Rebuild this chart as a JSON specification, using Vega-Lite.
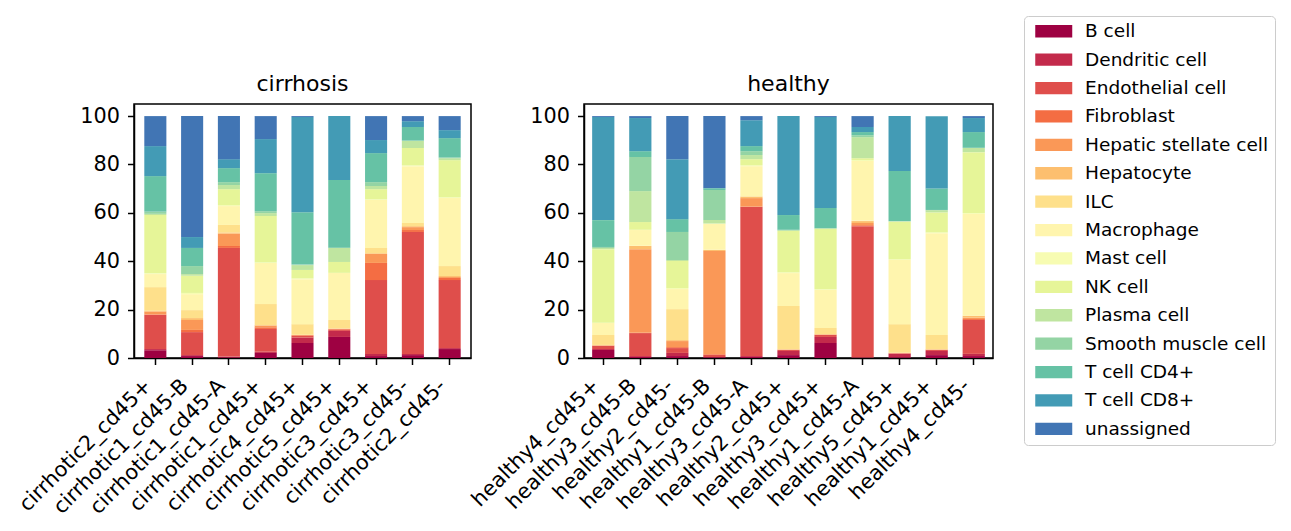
{
  "$schema": "https://vega.github.io/schema/vega-lite/v6.json",
  "padding": {"left": 14, "top": 15, "right": 5, "bottom": 5},
  "config": {
    "font": "DejaVu Sans",
    "background": "white",
    "view": {"stroke": "black", "strokeWidth": 1.5},
    "axis": {
      "domainColor": "black",
      "domainWidth": 1.5,
      "tickColor": "black",
      "tickWidth": 1.5,
      "tickSize": 6.5,
      "labelFont": "DejaVu Sans",
      "labelFontSize": 20.8,
      "labelColor": "black",
      "grid": false,
      "title": null
    },
    "title": {"font": "DejaVu Sans", "fontSize": 22, "fontWeight": "normal", "color": "black", "offset": 8, "baseline": "alphabetic"},
    "legend": {"labelFont": "DejaVu Sans", "labelFontSize": 18.5, "labelColor": "black", "labelLimit": 400}
  },
  "datasets": {
    "props": [
      {"sample": "cirrhotic2_cd45+", "condition": "cirrhosis", "B cell": 3.2, "Dendritic cell": 0.5, "Endothelial cell": 14.1, "Fibroblast": 0.2, "Hepatic stellate cell": 1.2, "Hepatocyte": 0.3, "ILC": 9.8, "Macrophage": 5.4, "Mast cell": 0.3, "NK cell": 24.1, "Plasma cell": 0.5, "Smooth muscle cell": 0.9, "T cell CD4+": 14.7, "T cell CD8+": 12.4, "unassigned": 12.4},
      {"sample": "cirrhotic1_cd45-B", "condition": "cirrhosis", "B cell": 0.8, "Dendritic cell": 0.4, "Endothelial cell": 9.5, "Fibroblast": 0.9, "Hepatic stellate cell": 4.1, "Hepatocyte": 0.8, "ILC": 3.3, "Macrophage": 6.6, "Mast cell": 0.5, "NK cell": 7.1, "Plasma cell": 0.7, "Smooth muscle cell": 3.3, "T cell CD4+": 7.5, "T cell CD8+": 4.5, "unassigned": 50.0},
      {"sample": "cirrhotic1_cd45-A", "condition": "cirrhosis", "B cell": 0.3, "Dendritic cell": 0.3, "Endothelial cell": 44.9, "Fibroblast": 0.8, "Hepatic stellate cell": 5.1, "Hepatocyte": 0.5, "ILC": 3.1, "Macrophage": 7.8, "Mast cell": 0.4, "NK cell": 6.6, "Plasma cell": 1.7, "Smooth muscle cell": 1.2, "T cell CD4+": 5.8, "T cell CD8+": 3.7, "unassigned": 17.8},
      {"sample": "cirrhotic1_cd45+", "condition": "cirrhosis", "B cell": 2.1, "Dendritic cell": 0.5, "Endothelial cell": 9.4, "Fibroblast": 0.7, "Hepatic stellate cell": 0.7, "Hepatocyte": 0.2, "ILC": 8.7, "Macrophage": 17.0, "Mast cell": 0.2, "NK cell": 19.2, "Plasma cell": 1.2, "Smooth muscle cell": 0.8, "T cell CD4+": 15.7, "T cell CD8+": 14.1, "unassigned": 9.5},
      {"sample": "cirrhotic4_cd45+", "condition": "cirrhosis", "B cell": 6.2, "Dendritic cell": 2.2, "Endothelial cell": 0.7, "Fibroblast": 0.3, "Hepatic stellate cell": 0.1, "Hepatocyte": 0.1, "ILC": 4.4, "Macrophage": 18.6, "Mast cell": 0.3, "NK cell": 3.5, "Plasma cell": 2.0, "Smooth muscle cell": 0.2, "T cell CD4+": 21.7, "T cell CD8+": 39.3, "unassigned": 0.4},
      {"sample": "cirrhotic5_cd45+", "condition": "cirrhosis", "B cell": 8.7, "Dendritic cell": 2.5, "Endothelial cell": 0.5, "Fibroblast": 0.3, "Hepatic stellate cell": 0.1, "Hepatocyte": 0.1, "ILC": 3.5, "Macrophage": 19.4, "Mast cell": 0.1, "NK cell": 4.5, "Plasma cell": 5.8, "Smooth muscle cell": 0.1, "T cell CD4+": 28.0, "T cell CD8+": 26.4, "unassigned": 0},
      {"sample": "cirrhotic3_cd45+", "condition": "cirrhosis", "B cell": 0.8, "Dendritic cell": 0.9, "Endothelial cell": 30.5, "Fibroblast": 7.1, "Hepatic stellate cell": 3.7, "Hepatocyte": 0.3, "ILC": 2.2, "Macrophage": 19.8, "Mast cell": 0.3, "NK cell": 4.2, "Plasma cell": 1.3, "Smooth muscle cell": 1.6, "T cell CD4+": 12.0, "T cell CD8+": 5.4, "unassigned": 9.9},
      {"sample": "cirrhotic3_cd45-", "condition": "cirrhosis", "B cell": 1.2, "Dendritic cell": 0.5, "Endothelial cell": 50.4, "Fibroblast": 0.8, "Hepatic stellate cell": 1.2, "Hepatocyte": 0.4, "ILC": 1.3, "Macrophage": 23.5, "Mast cell": 0.3, "NK cell": 7.2, "Plasma cell": 2.9, "Smooth muscle cell": 0.2, "T cell CD4+": 5.6, "T cell CD8+": 2.4, "unassigned": 2.1},
      {"sample": "cirrhotic2_cd45-", "condition": "cirrhosis", "B cell": 3.7, "Dendritic cell": 0.4, "Endothelial cell": 28.1, "Fibroblast": 0.9, "Hepatic stellate cell": 0.4, "Hepatocyte": 0.4, "ILC": 4.1, "Macrophage": 28.1, "Mast cell": 0.3, "NK cell": 15.4, "Plasma cell": 0.8, "Smooth muscle cell": 0.3, "T cell CD4+": 8.0, "T cell CD8+": 3.3, "unassigned": 5.8},
      {"sample": "healthy4_cd45+", "condition": "healthy", "B cell": 3.3, "Dendritic cell": 0.4, "Endothelial cell": 1.3, "Fibroblast": 0.1, "Hepatic stellate cell": 0.1, "Hepatocyte": 0.2, "ILC": 4.1, "Macrophage": 5.0, "Mast cell": 0.1, "NK cell": 30.4, "Plasma cell": 0.5, "Smooth muscle cell": 0.4, "T cell CD4+": 11.1, "T cell CD8+": 42.6, "unassigned": 0.4},
      {"sample": "healthy3_cd45-B", "condition": "healthy", "B cell": 0.4, "Dendritic cell": 0.4, "Endothelial cell": 9.5, "Fibroblast": 0.1, "Hepatic stellate cell": 34.6, "Hepatocyte": 1.3, "ILC": 0.1, "Macrophage": 6.5, "Mast cell": 0.1, "NK cell": 3.2, "Plasma cell": 12.8, "Smooth muscle cell": 14.1, "T cell CD4+": 2.4, "T cell CD8+": 13.7, "unassigned": 0.8},
      {"sample": "healthy2_cd45-", "condition": "healthy", "B cell": 0.8, "Dendritic cell": 1.3, "Endothelial cell": 2.0, "Fibroblast": 0.4, "Hepatic stellate cell": 2.5, "Hepatocyte": 0.4, "ILC": 12.8, "Macrophage": 8.3, "Mast cell": 0.4, "NK cell": 11.2, "Plasma cell": 0.4, "Smooth muscle cell": 11.6, "T cell CD4+": 5.3, "T cell CD8+": 24.8, "unassigned": 17.8},
      {"sample": "healthy1_cd45-B", "condition": "healthy", "B cell": 0.3, "Dendritic cell": 0.1, "Endothelial cell": 0.8, "Fibroblast": 0.3, "Hepatic stellate cell": 42.7, "Hepatocyte": 0.4, "ILC": 0.1, "Macrophage": 10.7, "Mast cell": 0.1, "NK cell": 0.1, "Plasma cell": 1.4, "Smooth muscle cell": 12.4, "T cell CD4+": 0.8, "T cell CD8+": 0.1, "unassigned": 29.7},
      {"sample": "healthy3_cd45-A", "condition": "healthy", "B cell": 0.4, "Dendritic cell": 0.4, "Endothelial cell": 61.6, "Fibroblast": 0.2, "Hepatic stellate cell": 3.5, "Hepatocyte": 0.6, "ILC": 0.2, "Macrophage": 12.4, "Mast cell": 0.4, "NK cell": 2.5, "Plasma cell": 1.7, "Smooth muscle cell": 1.6, "T cell CD4+": 2.1, "T cell CD8+": 10.7, "unassigned": 1.7},
      {"sample": "healthy2_cd45+", "condition": "healthy", "B cell": 1.2, "Dendritic cell": 1.7, "Endothelial cell": 0.4, "Fibroblast": 0.1, "Hepatic stellate cell": 0.1, "Hepatocyte": 0.1, "ILC": 17.9, "Macrophage": 13.6, "Mast cell": 0.3, "NK cell": 17.1, "Plasma cell": 0.3, "Smooth muscle cell": 0.2, "T cell CD4+": 6.1, "T cell CD8+": 40.9, "unassigned": 0},
      {"sample": "healthy3_cd45+", "condition": "healthy", "B cell": 6.2, "Dendritic cell": 2.5, "Endothelial cell": 0.8, "Fibroblast": 0.1, "Hepatic stellate cell": 0.1, "Hepatocyte": 0.2, "ILC": 2.5, "Macrophage": 15.7, "Mast cell": 0.3, "NK cell": 24.9, "Plasma cell": 0.3, "Smooth muscle cell": 0.1, "T cell CD4+": 8.3, "T cell CD8+": 37.6, "unassigned": 0.4},
      {"sample": "healthy1_cd45-A", "condition": "healthy", "B cell": 0.1, "Dendritic cell": 0.2, "Endothelial cell": 54.2, "Fibroblast": 0.4, "Hepatic stellate cell": 0.9, "Hepatocyte": 0.8, "ILC": 0.2, "Macrophage": 24.6, "Mast cell": 0.4, "NK cell": 0.8, "Plasma cell": 8.7, "Smooth muscle cell": 0.8, "T cell CD4+": 1.3, "T cell CD8+": 2.1, "unassigned": 4.5},
      {"sample": "healthy5_cd45+", "condition": "healthy", "B cell": 0.3, "Dendritic cell": 1.4, "Endothelial cell": 0.2, "Fibroblast": 0.1, "Hepatic stellate cell": 0.1, "Hepatocyte": 0.1, "ILC": 11.8, "Macrophage": 26.5, "Mast cell": 0.3, "NK cell": 15.5, "Plasma cell": 0.2, "Smooth muscle cell": 0.1, "T cell CD4+": 20.7, "T cell CD8+": 22.7, "unassigned": 0},
      {"sample": "healthy1_cd45+", "condition": "healthy", "B cell": 1.2, "Dendritic cell": 1.7, "Endothelial cell": 0.4, "Fibroblast": 0.1, "Hepatic stellate cell": 0.1, "Hepatocyte": 0.1, "ILC": 5.9, "Macrophage": 42.1, "Mast cell": 0.3, "NK cell": 8.3, "Plasma cell": 0.9, "Smooth muscle cell": 0.1, "T cell CD4+": 8.9, "T cell CD8+": 29.8, "unassigned": 0},
      {"sample": "healthy4_cd45-", "condition": "healthy", "B cell": 0.8, "Dendritic cell": 0.9, "Endothelial cell": 14.0, "Fibroblast": 0.4, "Hepatic stellate cell": 0.6, "Hepatocyte": 0.7, "ILC": 0.1, "Macrophage": 42.0, "Mast cell": 0.4, "NK cell": 25.2, "Plasma cell": 1.7, "Smooth muscle cell": 0.1, "T cell CD4+": 6.5, "T cell CD8+": 5.8, "unassigned": 0.8}
    ]
  },
  "data": {"name": "props"},
  "transform": [
    {"fold": ["B cell", "Dendritic cell", "Endothelial cell", "Fibroblast", "Hepatic stellate cell", "Hepatocyte", "ILC", "Macrophage", "Mast cell", "NK cell", "Plasma cell", "Smooth muscle cell", "T cell CD4+", "T cell CD8+", "unassigned"], "as": ["cell_type", "pct"]}
  ],
  "spacing": 113,
  "bounds": "flush",
  "hconcat": [
    {
      "title": "cirrhosis",
      "width": 337,
      "height": 254,
      "transform": [{"filter": "datum.condition == 'cirrhosis'"}],
      "mark": {"type": "bar", "strokeWidth": 0},
      "encoding": {
        "x": {
          "field": "sample", "type": "nominal", "sort": null,
          "scale": {"paddingInner": 0.4, "paddingOuter": 0.28},
          "axis": {"labelAngle": -45, "labelAlign": "right", "labelBaseline": "middle", "labelOffset": -7, "labelPadding": 18, "labelLimit": 400, "labelOverlap": false, "labelBound": false}
        },
        "y": {
          "field": "pct", "type": "quantitative", "stack": "zero",
          "scale": {"domain": [0, 105], "nice": false},
          "axis": {"values": [0, 20, 40, 60, 80, 100], "labelPadding": 8}
        },
        "order": {"field": "cell_type", "sort": "ascending"},
        "color": {
          "field": "cell_type", "type": "nominal",
          "scale": {
            "domain": ["B cell", "Dendritic cell", "Endothelial cell", "Fibroblast", "Hepatic stellate cell", "Hepatocyte", "ILC", "Macrophage", "Mast cell", "NK cell", "Plasma cell", "Smooth muscle cell", "T cell CD4+", "T cell CD8+", "unassigned"],
            "range": ["#9e0142", "#c32a4b", "#df4e4b", "#f46d43", "#fa9857", "#fdbf6f", "#fee08b", "#fff5ae", "#f7fcb2", "#e6f598", "#bfe5a0", "#94d4a4", "#66c2a5", "#439bb5", "#4175b4"]
          },
          "legend": {
            "title": null, "orient": "none", "legendX": 890, "legendY": -88,
            "symbolType": "M-3,-1H3V1H-3Z", "symbolSize": 152, "symbolStrokeWidth": 0, "symbolOpacity": 1,
            "symbolOffset": 14.5, "labelOffset": 22, "rowPadding": 9.4, "padding": 6, "labelLimit": 400,
            "strokeColor": "#cccccc", "fillColor": "white", "cornerRadius": 4
          }
        }
      }
    },
    {
      "title": "healthy",
      "width": 409,
      "height": 254,
      "transform": [{"filter": "datum.condition == 'healthy'"}],
      "mark": {"type": "bar", "strokeWidth": 0},
      "encoding": {
        "x": {
          "field": "sample", "type": "nominal", "sort": null,
          "scale": {"paddingInner": 0.4, "paddingOuter": 0.22},
          "axis": {"labelAngle": -45, "labelAlign": "right", "labelBaseline": "middle", "labelOffset": -7, "labelPadding": 18, "labelLimit": 400, "labelOverlap": false, "labelBound": false}
        },
        "y": {
          "field": "pct", "type": "quantitative", "stack": "zero",
          "scale": {"domain": [0, 105], "nice": false},
          "axis": {"values": [0, 20, 40, 60, 80, 100], "labelPadding": 8}
        },
        "order": {"field": "cell_type", "sort": "ascending"},
        "color": {
          "field": "cell_type", "type": "nominal",
          "legend": {
            "title": null, "orient": "none", "legendX": 890, "legendY": -88,
            "symbolType": "M-3,-1H3V1H-3Z", "symbolSize": 152, "symbolStrokeWidth": 0, "symbolOpacity": 1,
            "symbolOffset": 14.5, "labelOffset": 22, "rowPadding": 9.4, "padding": 6, "labelLimit": 400,
            "strokeColor": "#cccccc", "fillColor": "white", "cornerRadius": 4
          }
        }
      }
    }
  ]
}
